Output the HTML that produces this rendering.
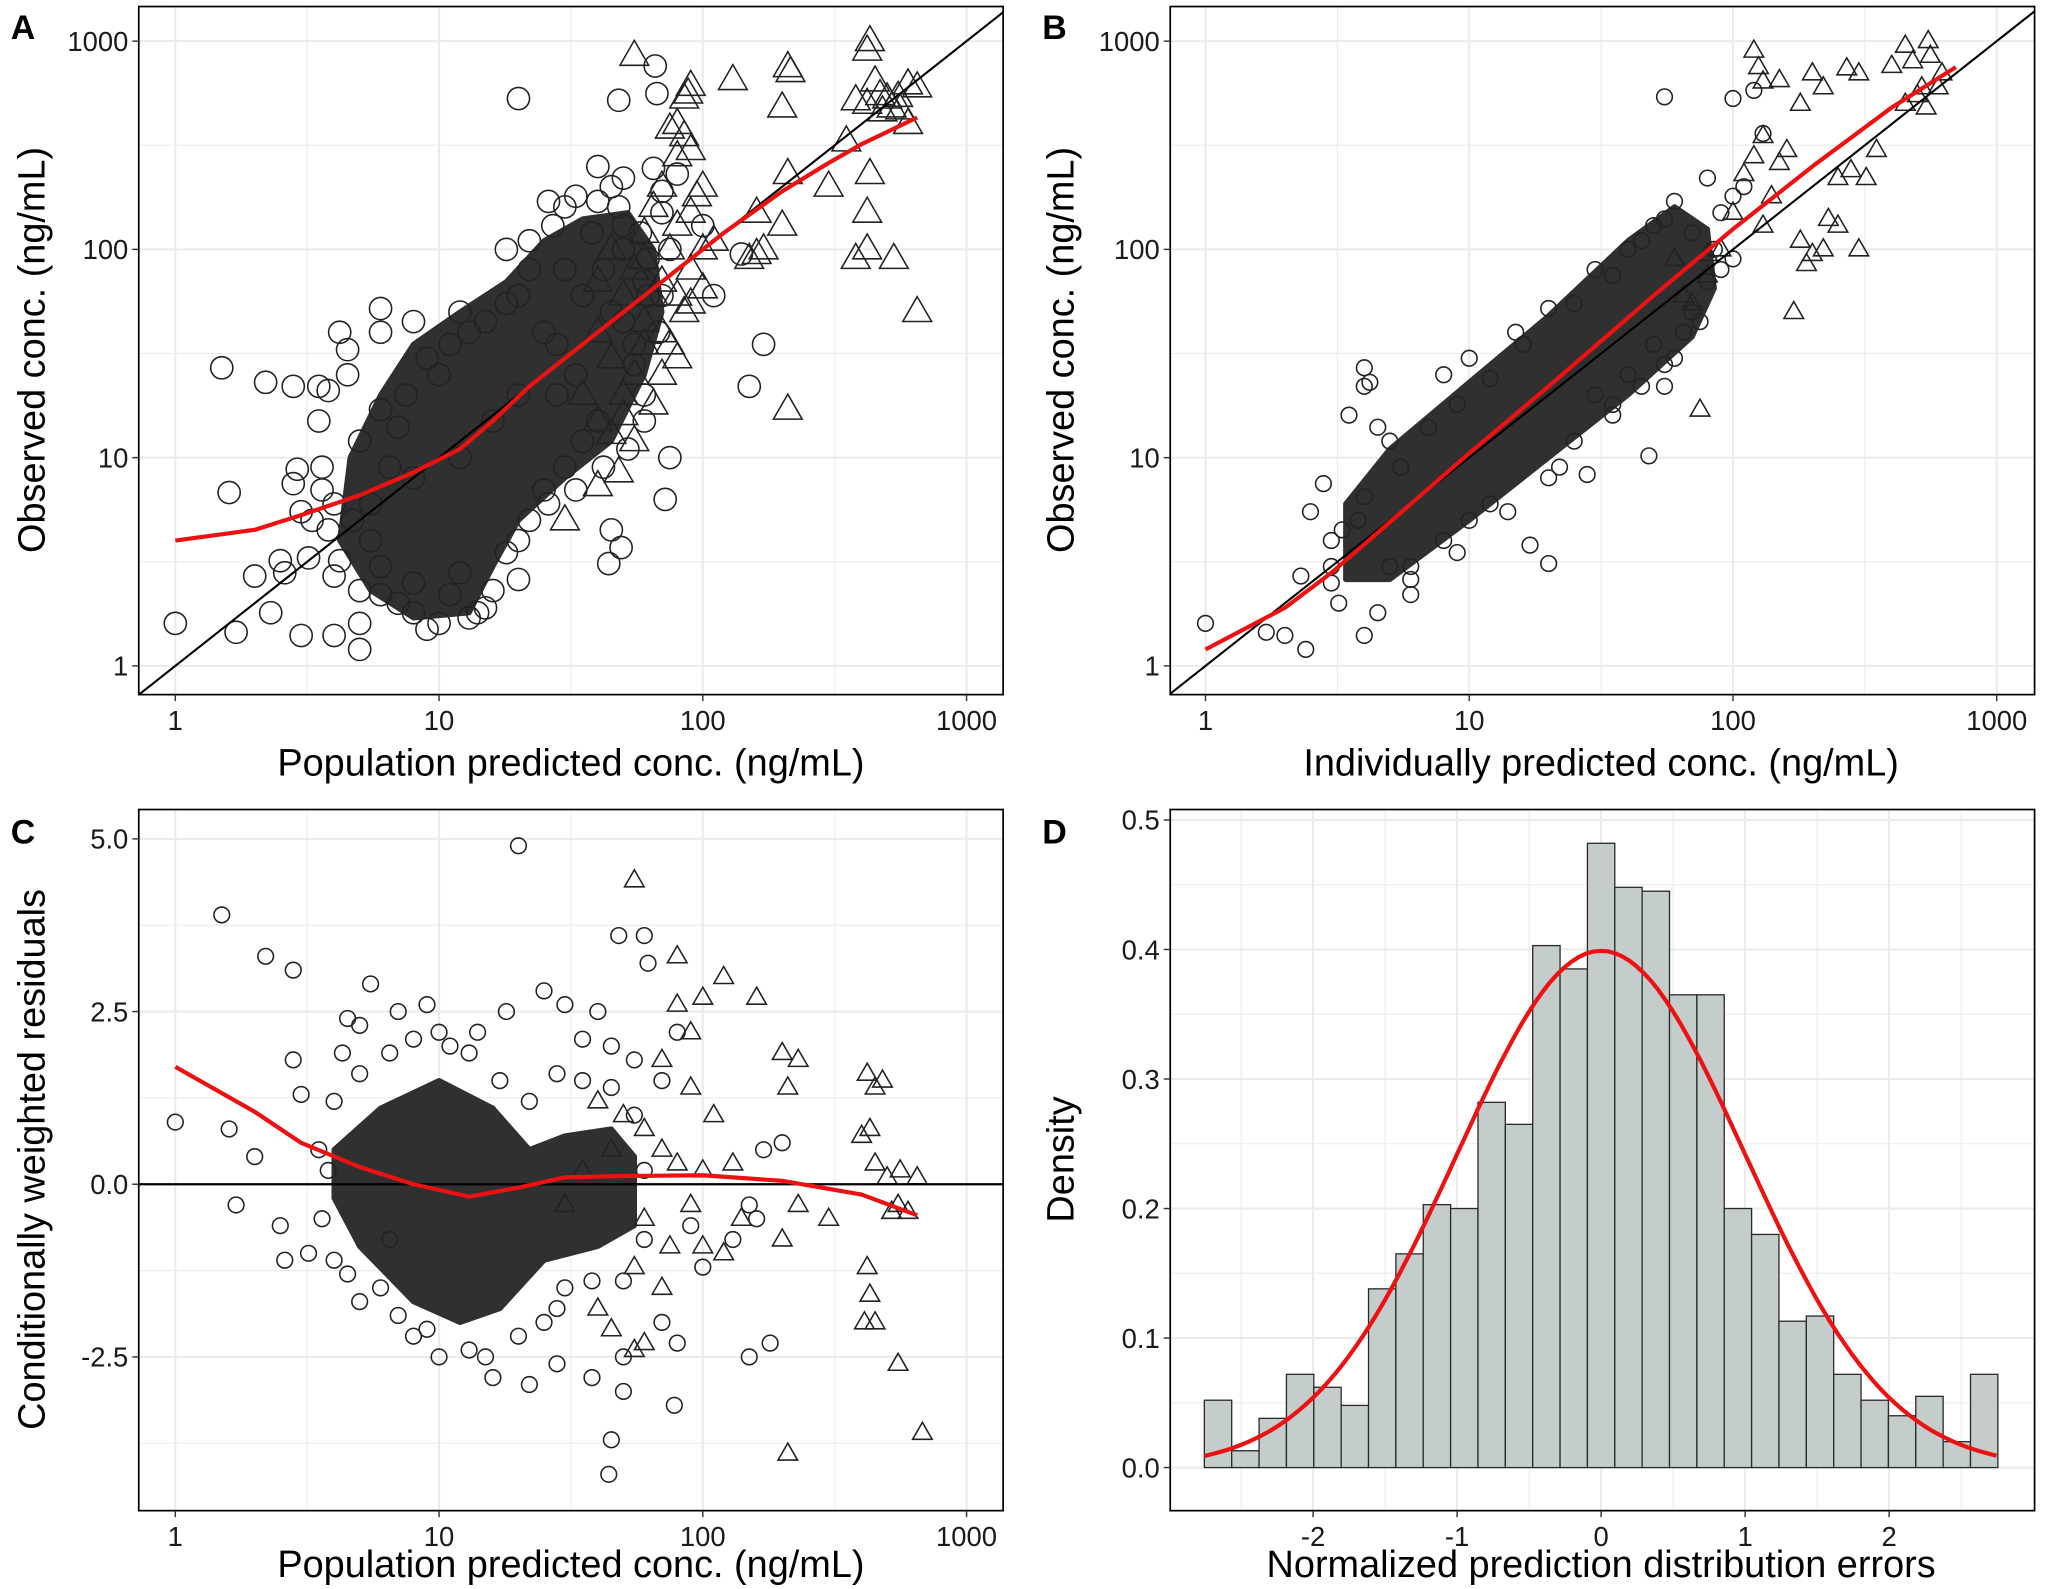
<!DOCTYPE html>
<html><head><meta charset="utf-8"><style>
html,body{margin:0;padding:0;background:#fff;}
svg{display:block;font-family:"Liberation Sans",Arial,sans-serif;}
</style></head><body>
<svg id="fig" width="2048" height="1589" viewBox="0 0 1568 1217" xmlns="http://www.w3.org/2000/svg"></svg>
<script>
// ---------- DATA ----------
const aCircles=[[1,1.6],[1.5,27],[1.6,6.8],[1.7,1.45],[2,2.7],[2.2,23],[2.3,1.8],[2.5,3.2],[2.6,2.8],[2.8,22],[2.8,7.5],[2.9,8.8],[3,1.4],[3,5.5],[3.5,22],[3.5,15],[3.8,21],[4,1.4],[4.2,40],[4.5,33],[4.5,25],[5,1.2],[5,1.6],[6,52],[4,2.7],[3.2,3.3],[20,530],[48,520],[66,760],[67,560],[65,245],[40,250],[26,170],[30,160],[22,110],[45,200],[50,220],[70,190],[80,230],[100,130],[110,60],[75,10],[72,6.3],[20,2.6],[45,4.5],[49,3.7],[44,3.1],[170,35],[150,22],[140,95],[50,100],[60,70],[18,100],[12,50],[8,45],[6,40],[13,40],[28,20],[40,15],[35,12],[30,9],[25,7],[22,5],[60,20],[55,35],[45,50],[42,80],[35,60],[9,1.5],[10,1.6],[14,1.8],[15,1.9],[11,2.2],[7,2],[6,3],[5.5,4],[4.7,5],[4,6],[3.6,7],[18,3.5],[12,2.8],[8,2.5],[33,25],[20,20],[16,15],[10,25],[12,10],[8,8],[25,40],[20,60],[30,80],[38,120],[28,35],[50,45],[75,100],[62,60],[55,28],[3.8,4.5],[4.2,3.2],[5,2.3],[5.5,6],[6.5,9],[7,14],[7.5,20],[9,30],[11,35],[15,45],[18,55],[22,80],[27,130],[33,180],[40,170],[48,160],[58,120],[62,90],[70,60],[68,40],[60,15],[52,11],[42,9],[33,7],[26,6],[20,4],[16,2.3],[13,1.7],[8,1.8],[6,2.2],[3.3,5],[3.6,9],[5,12],[6,17],[50,130],[70,150]];
const aTriangles=[[55,850],[85,530],[88,560],[130,650],[90,610],[210,750],[215,710],[200,480],[420,900],[430,1000],[450,640],[470,550],[500,530],[550,540],[600,620],[650,600],[380,520],[420,500],[520,480],[480,460],[600,400],[560,470],[350,330],[300,200],[210,230],[200,130],[430,230],[420,150],[420,100],[380,90],[530,90],[650,50],[210,17],[160,150],[170,100],[150,90],[160,95],[80,400],[75,380],[85,350],[90,300],[80,280],[95,180],[100,200],[90,150],[70,200],[80,130],[75,100],[60,90],[70,70],[65,60],[80,60],[85,50],[90,55],[100,65],[60,45],[70,40],[75,35],[80,30],[70,25],[50,20],[40,15],[45,13],[55,12],[48,8.5],[40,7.3],[30,5],[60,35],[55,25],[45,30],[65,18],[50,16],[35,20],[40,40],[50,60],[60,120],[55,80],[45,100],[40,70],[100,100],[90,80],[110,110],[65,160]];
const aCore=[[4.2,4],[5.5,2.3],[8,1.7],[13,1.8],[16,3],[20,5],[30,8],[45,12],[60,25],[70,50],[65,100],[52,150],[35,140],[25,110],[18,70],[12,50],[8,35],[6,20],[4.6,10]];
const aLoessX=[1,2,3,5,8,12,16,22,30,50,80,120,200,300,400,650];
const aLoessY=[4,4.5,5.3,6.6,8.5,11,15,22,30,50,80,120,190,260,320,430];

const bCircles=[[1,1.6],[1.7,1.45],[2,1.4],[2.4,1.2],[2.3,2.7],[2.5,5.5],[2.8,7.5],[3.5,16],[4,27],[4,22],[4.2,23],[4.5,14],[5,12],[3,3],[3.2,2],[4,1.4],[4.5,1.8],[20,3.1],[17,3.8],[28,8.3],[48,10.2],[55,22],[55,540],[100,530],[120,580],[130,360],[110,200],[100,180],[90,150],[80,220],[60,170],[50,130],[40,100],[30,80],[20,52],[15,40],[10,30],[8,25],[70,50],[60,30],[40,25],[30,20],[12,6],[10,5],[8,4],[6,3],[25,12],[22,9],[35,18],[45,22],[50,35],[65,40],[90,80],[100,90],[80,70],[3.8,5],[3,4],[5,3],[6,2.6],[3,2.5],[3.3,4.5],[4,6.5],[5.5,9],[7,14],[9,18],[12,24],[16,35],[25,55],[35,75],[45,110],[55,140],[70,120],[85,100],[75,45],[55,28],[35,16],[20,8],[14,5.5],[9,3.5],[6,2.2]];
const bTriangles=[[120,900],[125,750],[130,640],[150,650],[200,700],[180,500],[220,600],[270,740],[300,700],[400,760],[450,950],[480,800],[550,1000],[560,850],[600,600],[620,700],[500,550],[450,500],[540,480],[520,600],[350,300],[280,240],[250,220],[250,130],[320,220],[230,140],[220,100],[200,95],[170,50],[130,130],[140,180],[150,260],[110,230],[100,150],[90,100],[80,95],[80,75],[70,55],[65,60],[60,90],[75,17],[120,280],[130,350],[160,300],[300,100],[190,85],[180,110]];
const bCore=[[3.4,2.6],[5,2.6],[10,5],[20,10],[40,20],[70,38],[85,65],[80,125],[60,160],[40,110],[20,48],[10,23],[5,11],[3.4,6]];
const bLoessX=[1,2,3,5,10,20,50,100,200,400,700];
const bLoessY=[1.2,1.9,2.8,4.9,10.5,22,60,125,250,480,750];

const cCircles=[[1,0.9],[1.5,3.9],[1.6,0.8],[1.7,-0.3],[2,0.4],[2.2,3.3],[2.5,-0.6],[2.6,-1.1],[2.8,3.1],[2.8,1.8],[3,1.3],[3.2,-1],[4,-1.1],[4.3,1.9],[4.5,2.4],[5,2.3],[5.5,2.9],[20,4.9],[48,3.6],[60,3.6],[62,3.2],[40,2.5],[30,2.6],[25,2.8],[18,2.5],[15,-2.5],[16,-2.8],[22,-2.9],[28,-2.6],[38,-2.8],[45,-3.7],[44,-4.2],[50,-3],[78,-3.2],[150,-2.5],[180,-2.3],[70,-2],[80,-2.3],[100,-1.2],[90,-0.6],[80,2.2],[70,1.5],[55,1.8],[45,2],[35,2.1],[10,-2.5],[8,-2.2],[6,-1.5],[5,-1.7],[7,2.5],[9,2.6],[11,2],[14,2.2],[3.5,0.5],[6.5,-0.8],[50,-2.5],[30,-1.5],[25,-2],[160,-0.5],[130,-0.8],[150,-0.3],[200,0.6],[170,0.5],[4,1.2],[5,1.6],[6.5,1.9],[8,2.1],[10,2.2],[13,1.9],[17,1.5],[22,1.2],[28,1.6],[35,1.5],[45,1.4],[55,1],[60,0.2],[60,-0.8],[50,-1.4],[38,-1.4],[28,-1.8],[20,-2.2],[13,-2.4],[9,-2.1],[7,-1.9],[4.5,-1.3],[3.6,-0.5],[3.8,0.2]];
const cTriangles=[[55,4.4],[80,3.3],[100,2.7],[80,2.6],[90,2.2],[120,3],[160,2.7],[200,1.9],[210,1.4],[230,1.8],[420,1.6],[450,1.4],[480,1.5],[400,0.7],[430,0.8],[450,0.3],[500,0.1],[560,0.2],[600,-0.4],[650,0.1],[550,-0.3],[520,-0.4],[420,-1.2],[430,-1.6],[410,-2],[450,-2],[550,-2.6],[680,-3.6],[210,-3.9],[300,-0.5],[200,-0.8],[230,-0.3],[120,-1],[100,-0.9],[70,-1.5],[60,-2.3],[55,-2.4],[45,-2.1],[40,-1.8],[60,0.8],[50,1],[70,0.5],[80,0.3],[90,-0.3],[100,0.2],[40,1.2],[45,0.5],[35,0.2],[30,-0.3],[60,-0.5],[70,1.8],[110,1],[90,1.4],[75,-0.9],[55,-1.2],[130,0.3],[140,-0.5]];
const cCore=[[4,0.5],[6,1.1],[10,1.5],[16,1.1],[22,0.5],[30,0.7],[45,0.8],[55,0.4],[55,-0.6],[40,-0.9],[25,-1.1],[17,-1.8],[12,-2],[8,-1.7],[5,-0.9],[4,-0.2]];
const cLoessX=[1,2,3,5,8,13,20,30,50,100,200,400,650];
const cLoessY=[1.7,1.05,0.6,0.25,0.0,-0.18,-0.05,0.1,0.12,0.13,0.05,-0.15,-0.45];

const dBinStart=-2.755, dBinWidth=0.19;
const dDensity=[0.052,0.013,0.038,0.072,0.062,0.048,0.138,0.165,0.203,0.2,0.282,0.265,0.403,0.385,0.482,0.448,0.445,0.365,0.365,0.2,0.18,0.113,0.117,0.072,0.052,0.04,0.055,0.02,0.072];
const dNormMean=0, dNormSd=1;

const logTicks=[1,10,100,1000], logTickLabels=["1","10","100","1000"];
const cTicks=[5,2.5,0,-2.5], cTickLabels=["5.0","2.5","0.0","-2.5"];
const dYTicks=[0,0.1,0.2,0.3,0.4,0.5], dYTickLabels=["0.0","0.1","0.2","0.3","0.4","0.5"];
const dXTicks=[-2,-1,0,1,2], dXTickLabels=["-2","-1","0","1","2"];

// ---------- HELPERS ----------
const NS="http://www.w3.org/2000/svg";
const svg=document.getElementById('fig');
function el(tag,attrs,parent){const e=document.createElementNS(NS,tag);for(const k in attrs)e.setAttribute(k,attrs[k]);(parent||svg).appendChild(e);return e;}
function logScale(d0,r0,pxPerDec){return v=>r0+Math.log10(v/d0)*pxPerDec;}
function linScale(d0,r0,pxPerUnit){return v=>r0+(v-d0)*pxPerUnit;}

function panel(id,x0,y0,x1,y1){
  const g=el('g',{});
  
  
  const cp=el('clipPath',{id:'clip-'+id},g);
  el('rect',{x:x0,y:y0,width:x1-x0,height:y1-y0},cp);
  return g;
}
function gridV(g,xs,y0,y1,w){xs.forEach(x=>{const l=el('line',{x1:x,x2:x,y1:y0,y2:y1,stroke:'#ebebeb','stroke-width':w},g);});}
function gridH(g,ys,x0,x1,w){ys.forEach(y=>{const l=el('line',{x1:x0,x2:x1,y1:y,y2:y,stroke:'#ebebeb','stroke-width':w},g);});}
function xTicks(g,vals,labels,sx,yb){vals.forEach((v,i)=>{const x=sx(v);el('line',{x1:x,x2:x,y1:yb,y2:yb+5,stroke:'#333','stroke-width':1.1},g);const t=el('text',{x:x,y:yb+27,'text-anchor':'middle','font-size':21,fill:'#1a1a1a'},g);t.textContent=labels[i];});}
function yTicks(g,vals,labels,sy,xl){vals.forEach((v,i)=>{const y=sy(v);el('line',{x1:xl-5,x2:xl,y1:y,y2:y,stroke:'#333','stroke-width':1.1},g);const t=el('text',{x:xl-8,y:y+7.5,'text-anchor':'end','font-size':21,fill:'#1a1a1a'},g);t.textContent=labels[i];});}
function border(g,x0,y0,x1,y1){const r=el('rect',{x:x0,y:y0,width:x1-x0,height:y1-y0,fill:'none',stroke:'#000','stroke-width':1.3},g);}
function titles(g,xt,xx,xy,yt,yx,yy,letter,lx,ly){
  const a=el('text',{x:xx,y:xy,'text-anchor':'middle','font-size':29,fill:'#000'},g);a.textContent=xt;
  
  const b=el('text',{x:yx,y:yy,'text-anchor':'middle','font-size':29,fill:'#000',transform:`rotate(-90 ${yx} ${yy})`},g);b.textContent=yt;
  
  const c=el('text',{x:lx,y:ly,'font-size':26,'font-weight':'bold',fill:'#000'},g);c.textContent=letter;
  
}
function core(g,pts,sx,sy){const d='M'+pts.map(p=>sx(p[0]).toFixed(1)+','+sy(p[1]).toFixed(1)).join('L')+'Z';const p=el('path',{d:d,fill:'#303030',stroke:'#303030','stroke-width':4,'stroke-linejoin':'round'},g);}
function circles(g,pts,sx,sy,r){pts.forEach(p=>{const c=el('circle',{cx:sx(p[0]),cy:sy(p[1]),r:r,fill:'none',stroke:'#222','stroke-width':1.2},g);});}
function triangles(g,pts,sx,sy,s){pts.forEach(p=>{const x=sx(p[0]),y=sy(p[1]);const h=s*0.866;const t=el('polygon',{points:`${x},${y-h*0.62} ${x-s/2},${y+h*0.38} ${x+s/2},${y+h*0.38}`,fill:'none',stroke:'#222','stroke-width':1.2},g);});}
function curve(g,xs,ys,sx,sy,name){const d='M'+xs.map((v,i)=>sx(v).toFixed(1)+','+sy(ys[i]).toFixed(1)).join('L');const p=el('path',{d:d,fill:'none',stroke:'#ee1111','stroke-width':3.2,'stroke-linejoin':'round'},g);}

function minorLogs(s,lo,hi){const out=[];[1,10,100,1000].forEach(d=>{const v=d*Math.sqrt(10);const p=s(v);if(p>lo&&p<hi)out.push(p);});return out;}

// ---------- PANEL A ----------
(function(){
  const X0=106,X1=768,Y0=5,Y1=532;
  const sx=logScale(1,134,202), sy=logScale(1,510,-159.5);
  const g=panel('a',X0,Y0,X1,Y1);
  const inner=el('g',{'clip-path':'url(#clip-a)'},g);
  gridV(inner,minorLogs(sx,X0,X1),Y0,Y1,0.8);gridH(inner,minorLogs(sy,Y0,Y1),X0,X1,0.8);
  gridV(inner,logTicks.map(sx),Y0,Y1,1.6);gridH(inner,logTicks.map(sy),X0,X1,1.6);
  core(inner,aCore,sx,sy);
  circles(inner,aCircles,sx,sy,8.5);
  triangles(inner,aTriangles,sx,sy,22);
  const id=el('line',{x1:sx(0.5),y1:sy(0.5),x2:sx(3000),y2:sy(3000),stroke:'#000','stroke-width':1.6},inner);
  
  curve(inner,aLoessX,aLoessY,sx,sy,'loess-trend-line');
  border(g,X0,Y0,X1,Y1);
  xTicks(g,logTicks,logTickLabels,sx,Y1);yTicks(g,logTicks,logTickLabels,sy,X0);
  titles(g,'Population predicted conc. (ng/mL)',437,594,'Observed conc. (ng/mL)',34,268,'A',8,30);
})();

// ---------- PANEL B ----------
(function(){
  const X0=896,X1=1558,Y0=5,Y1=532;
  const sx=logScale(1,923,202), sy=logScale(1,510,-159.5);
  const g=panel('b',X0,Y0,X1,Y1);
  const inner=el('g',{'clip-path':'url(#clip-b)'},g);
  gridV(inner,minorLogs(sx,X0,X1),Y0,Y1,0.8);gridH(inner,minorLogs(sy,Y0,Y1),X0,X1,0.8);
  gridV(inner,logTicks.map(sx),Y0,Y1,1.6);gridH(inner,logTicks.map(sy),X0,X1,1.6);
  core(inner,bCore,sx,sy);
  circles(inner,bCircles,sx,sy,6);
  triangles(inner,bTriangles,sx,sy,15);
  const id=el('line',{x1:sx(0.5),y1:sy(0.5),x2:sx(3000),y2:sy(3000),stroke:'#000','stroke-width':1.6},inner);
  
  curve(inner,bLoessX,bLoessY,sx,sy,'loess-trend-line');
  border(g,X0,Y0,X1,Y1);
  xTicks(g,logTicks,logTickLabels,sx,Y1);yTicks(g,logTicks,logTickLabels,sy,X0);
  titles(g,'Individually predicted conc. (ng/mL)',1226,594,'Observed conc. (ng/mL)',822,268,'B',798,30);
})();

// ---------- PANEL C ----------
(function(){
  const X0=106,X1=768,Y0=620,Y1=1157;
  const sx=logScale(1,134,202), sy=linScale(0,907,-52.9);
  const g=panel('c',X0,Y0,X1,Y1);
  const inner=el('g',{'clip-path':'url(#clip-c)'},g);
  gridV(inner,minorLogs(sx,X0,X1),Y0,Y1,0.8);gridH(inner,[3.75,1.25,-1.25,-3.75].map(sy),X0,X1,0.8);
  gridV(inner,logTicks.map(sx),Y0,Y1,1.6);gridH(inner,cTicks.map(sy),X0,X1,1.6);
  core(inner,cCore,sx,sy);
  circles(inner,cCircles,sx,sy,6);
  triangles(inner,cTriangles,sx,sy,15);
  const z=el('line',{x1:X0,x2:X1,y1:sy(0),y2:sy(0),stroke:'#000','stroke-width':1.8},inner);
  
  curve(inner,cLoessX,cLoessY,sx,sy,'loess-trend-line');
  border(g,X0,Y0,X1,Y1);
  xTicks(g,logTicks,logTickLabels,sx,Y1);yTicks(g,cTicks,cTickLabels,sy,X0);
  titles(g,'Population predicted conc. (ng/mL)',437,1208,'Conditionally weighted residuals',34,888,'C',8,646);
})();

// ---------- PANEL D ----------
(function(){
  const X0=896,X1=1558,Y0=620,Y1=1157;
  const sx=linScale(0,1226,110.3), sy=linScale(0,1124,-992);
  const g=panel('d',X0,Y0,X1,Y1);
  const inner=el('g',{'clip-path':'url(#clip-d)'},g);
  gridV(inner,[-2.5,-1.5,-0.5,0.5,1.5,2.5].map(sx),Y0,Y1,0.8);gridH(inner,[0.05,0.15,0.25,0.35,0.45].map(sy),X0,X1,0.8);
  gridV(inner,dXTicks.map(sx),Y0,Y1,1.6);gridH(inner,dYTicks.map(sy),X0,X1,1.6);
  dDensity.forEach((v,i)=>{
    const a=dBinStart+i*dBinWidth,b=a+dBinWidth;
    const r=el('rect',{x:sx(a),y:sy(v),width:sx(b)-sx(a),height:sy(0)-sy(v),fill:'#c4cdcb',stroke:'#2a2a2a','stroke-width':1},inner);
    
    
  });
  const xs=[],ys=[];
  for(let x=dBinStart;x<=-dBinStart+1e-9;x+=0.05){xs.push(x);ys.push(Math.exp(-0.5*((x-dNormMean)/dNormSd)**2)/(dNormSd*Math.sqrt(2*Math.PI)));}
  curve(inner,xs,ys,sx,sy,'normal-density-curve');
  border(g,X0,Y0,X1,Y1);
  xTicks(g,dXTicks,dXTickLabels,sx,Y1);yTicks(g,dYTicks,dYTickLabels,sy,X0);
  titles(g,'Normalized prediction distribution errors',1226,1208,'Density',822,888,'D',798,646);
})();
</script>
</body></html>
